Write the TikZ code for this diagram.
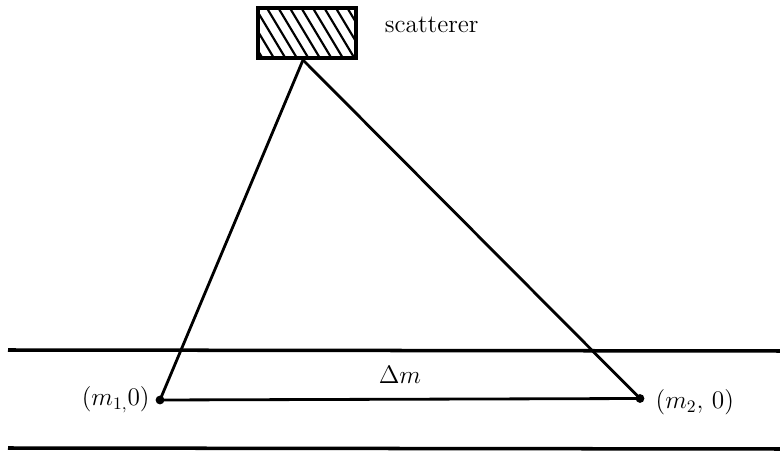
\documentclass[tikz,border=0pt]{standalone}
\usepackage{amsmath,amssymb}
\usepackage{tikz}
\usetikzlibrary{positioning,calc}
\tikzset{
  ln/.style={line width=1.6pt},
  pt/.style={circle,fill=black,inner sep=0pt,minimum size=5pt},
  lbl/.style={font=\Large,inner sep=2pt},
  box/.style={rectangle,draw,line width=1.8pt,minimum width=1.96cm,minimum height=1.0cm,inner sep=0pt},
}
\begin{document}
\begin{tikzpicture}
  \useasboundingbox (0,0) rectangle (15.6,9.1);
  % scatterer
  \node[box] (sc) at (6.14,8.44) {};
  \begin{scope}
    \clip (sc.south west) rectangle (sc.north east);
    \foreach \i in {0,...,10} {
      \draw[line width=1.2pt] ($(sc.north west)+(\i*0.23-0.5,0)$) -- ++(0.6,-1.0);
    }
  \end{scope}
  \node[box] at (sc) {};
  \node[lbl,anchor=west] (st) at (7.62,8.6) {scatterer};
  \coordinate (ap) at (6.06,7.9);
  % observation points
  \node[pt] (m1) at (3.2,1.1) {};
  \node[pt] (m2) at (12.8,1.13) {};
  \node[lbl,left=1pt of m1] {$(m_{1,}0)$};
  \node[lbl,right=4pt of m2,yshift=-2pt] {$(m_2,\,0)$};
  % rays and baseline
  \draw[ln] (ap) -- (m1.center);
  \draw[ln] (ap) -- (m2.center);
  \draw[ln] (m1.center) -- (m2.center) node[lbl,midway,above=0.22cm] (dm) {$\Delta m$};
  % layer boundaries
  \coordinate (t0) at (0.16,2.1);
  \coordinate (t1) at (15.6,2.08);
  \coordinate (b0) at (0.16,0.14);
  \coordinate (b1) at (15.6,0.12);
  \draw[line width=2pt] (t0) -- (t1);
  \draw[line width=2pt] (b0) -- (b1);
\end{tikzpicture}
\end{document}
